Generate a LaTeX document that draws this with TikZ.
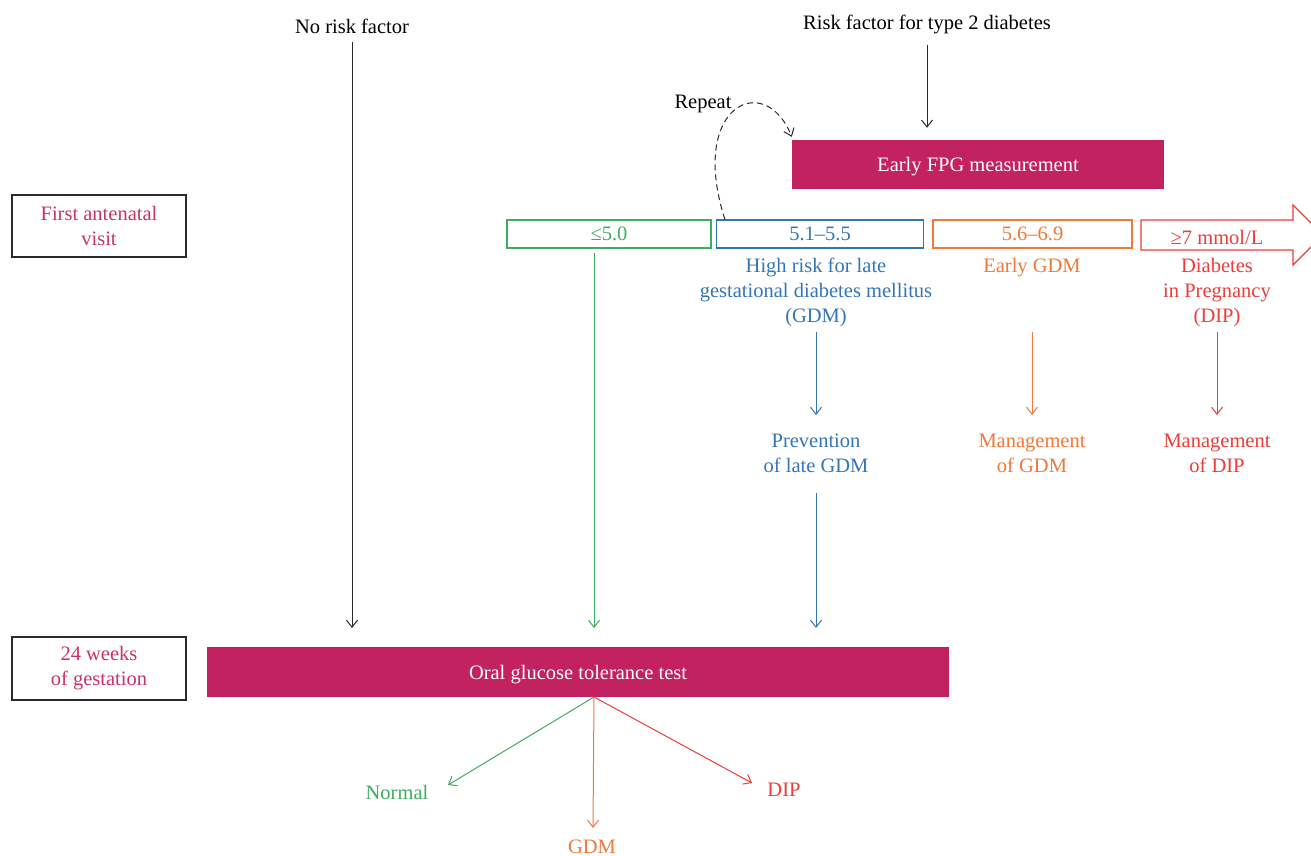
\documentclass[tikz,border=0pt]{standalone}
\usepackage{fontspec}
\setmainfont{Liberation Serif}
\usetikzlibrary{arrows.meta}
\definecolor{mag}{HTML}{C2225F}
\definecolor{pinktxt}{HTML}{C8326B}
\definecolor{cgreen}{HTML}{3DAE5F}
\definecolor{cblue}{HTML}{3475B5}
\definecolor{corange}{HTML}{F0793A}
\definecolor{cred}{HTML}{EE3B3B}
\definecolor{cgray}{HTML}{2A2A2A}
\tikzset{
  txt/.style={font=\fontsize{20.5}{25}\selectfont, align=center, inner sep=0pt, yshift=-2.5pt},
  magbox/.style={fill=mag, text=white, font=\fontsize{20.5}{25}\selectfont, inner sep=0pt, text depth=0pt},
  leftbox/.style={draw=cgray, line width=1.2pt, text=pinktxt, font=\fontsize{20.5}{25}\selectfont, align=center, inner sep=0pt, minimum width=174, minimum height=62},
  valbox/.style={draw=#1, text=#1, line width=1.2pt, font=\fontsize{20.5}{25}\selectfont, inner sep=0pt, minimum height=28, text depth=0pt},
  arr/.style={line width=1pt, -{Straight Barb[length=7pt,width=11pt]}}
}
\begin{document}
\begin{tikzpicture}[x=1pt,y=-1pt]
\useasboundingbox (0,0) rectangle (1311,856);
\fill[white] (0,0) rectangle (1311,856);

% top labels
\node[txt] (nrf) at (352,24) {No risk factor};
\node[txt] (rf) at (927,22) {Risk factor for type 2 diabetes};
\node[txt] (rep) at (703,101) {Repeat};

% early FPG
\node[magbox, minimum width=372, minimum height=49] (fpg) at (978,164.5) {Early FPG measurement};

% left boxes
\node[leftbox] (fav) at (99,226) {First antenatal\\visit};
\node[leftbox, minimum height=63] (wk) at (99,668.5) {24 weeks\\of gestation};

% value boxes
\node[valbox=cgreen, minimum width=204] (b1) at (609,234) {≤5.0};
\node[valbox=cblue, minimum width=207] (b2) at (820,234) {5.1–5.5};
\node[valbox=corange, minimum width=199] (b3) at (1032.5,234) {5.6–6.9};

% big red arrow
\draw[cred, line width=1.2pt] (1141,220) -- (1293,220) -- (1293,205) -- (1323,235) -- (1293,265) -- (1293,250) -- (1141,250) -- cycle;
\node[txt, text=cred] (b4) at (1217,235) {≥7 mmol/L};

% descriptions
\node[txt, text=cblue] (d2) at (816,290) {High risk for late\\gestational diabetes mellitus\\(GDM)};
\node[txt, text=corange] (d3) at (1032,265) {Early GDM};
\node[txt, text=cred] (d4) at (1217,290) {Diabetes\\in Pregnancy\\(DIP)};

\node[txt, text=cblue] (p2) at (816,450.5) {Prevention\\of late GDM};
\node[txt, text=corange] (p3) at (1032,450.5) {Management\\of GDM};
\node[txt, text=cred] (p4) at (1217,450.5) {Management\\of DIP};

% OGTT
\node[magbox, minimum width=742, minimum height=50] (ogtt) at (578,672) {Oral glucose tolerance test};

% outcomes
\node[txt, text=cgreen] (onorm) at (397,790) {Normal};
\node[txt, text=corange] (ogdm) at (592,844) {GDM};
\node[txt, text=cred] (odip) at (784,787) {DIP};

% coordinates
\coordinate (c1) at (352,628);
\coordinate (c2) at (594,628);
\coordinate (c3) at (816,628);
\coordinate (top2) at (816,332);
\coordinate (top3) at (1032,332);
\coordinate (top4) at (1217,332);
\coordinate (tip2) at (816,415);
\coordinate (tip3) at (1032,415);
\coordinate (tip4) at (1217,415);
\coordinate (src) at (594,697);
\coordinate (tn) at (448,785);
\coordinate (tg) at (593,828);
\coordinate (td) at (752,783);
\coordinate (s1) at (352,42);
\coordinate (s2) at (927,45);
\coordinate (s3) at (816,493);

% connectors
\draw[arr, cgray] (s1) -- (c1);
\draw[arr, cgray] (s2) -- ([yshift=12pt]fpg.north -| rf);
\draw[arr, cgreen] ([yshift=-4pt]b1.south -| c2) -- (c2);
\draw[arr, cblue] (top2) -- (tip2);
\draw[arr, corange] (top3) -- (tip3);
\draw[arr, cred] (top4) -- (tip4);
\draw[arr, cblue] (s3) -- (c3);

\draw[line width=1pt, cgray, dashed, dash pattern=on 6pt off 4pt, -{Straight Barb[length=7pt,width=11pt]}]
  ([xshift=9pt]b2.north west) .. controls (688,105) and (765,70) .. ([yshift=3pt]fpg.north west);

\draw[arr, cgreen] (src) -- (tn);
\draw[arr, corange] (src) -- (tg);
\draw[arr, cred] (src) -- (td);
\end{tikzpicture}
\end{document}
